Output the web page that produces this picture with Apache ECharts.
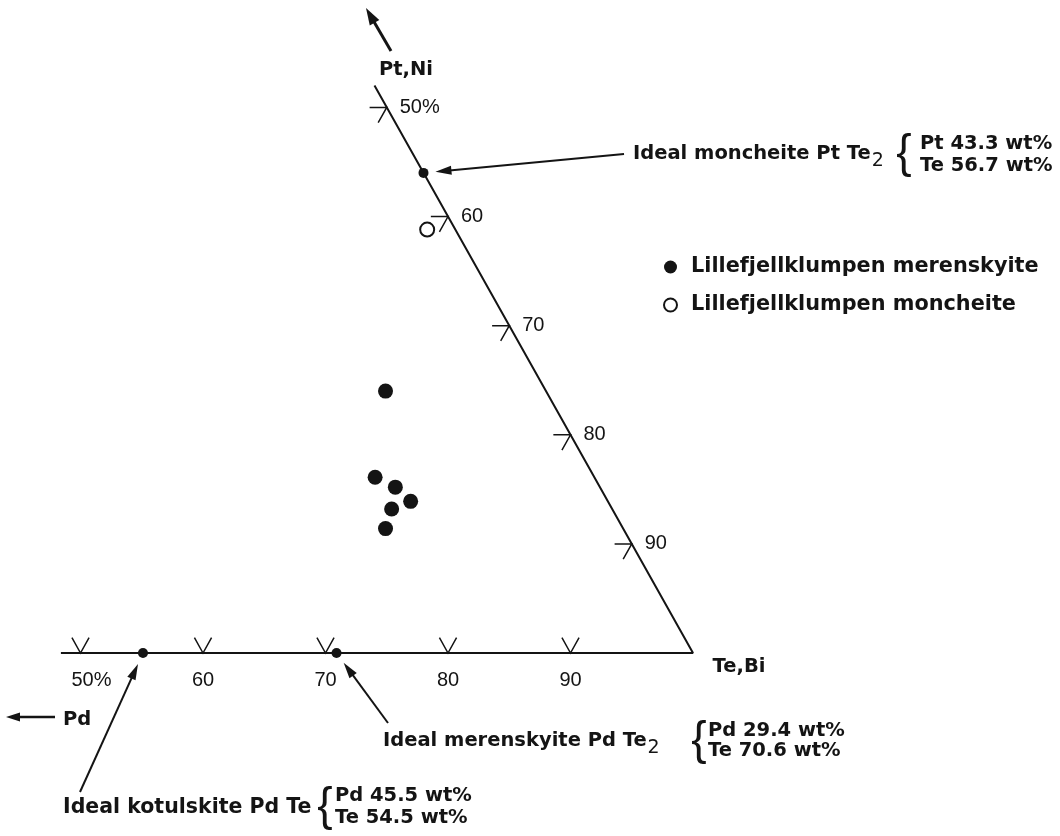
<!DOCTYPE html>
<html><head><meta charset="utf-8">
<script src="https://cdn.jsdelivr.net/npm/echarts@6/dist/echarts.min.js"></script>
<style>html,body{margin:0;padding:0;background:#fff}#main{width:1060px;height:836px}</style>
</head><body><div id="main"></div>
<script>
// ---------- data (wt%): Te,Bi and Pt,Ni; Pd = 100 - Te - Pt ----------
const teTicks = [50, 60, 70, 80, 90];
const bottomTickLabels = ['50%', '60', '70', '80', '90'];
const rightTickLabels = ['50%', '60', '70', '80', '90'];
const merenskyiteTe = [62.9, 66.0, 68.1, 70.0, 68.8, 69.2];
const merenskyitePt = [24.0, 16.1, 15.2, 13.9, 13.2, 11.4];
const moncheiteTe = [58.9];
const moncheitePt = [38.8];
const idealNames = ['moncheite', 'merenskyite', 'kotulskite'];
const idealTe = [56.0, 70.9, 55.1];
const idealPt = [44.0, 0, 0];
const frameTe = [48.4, 100, 48.0];
const framePt = [0, 0, 52.0];
const seriesNames = ['Lillefjellklumpen merenskyite', 'Lillefjellklumpen moncheite'];

// ---------- helpers ----------
const SQ = Math.sqrt(3) / 2;
const toXY = (te, pt) => [te + pt / 2, pt * SQ];
const TXT = '#141414';
const BOLD = 'DejaVu Sans';
const NUMF = 'Liberation Sans';
const tickLen = 1.4;

const bottomTicks = teTicks.map(t => ({ coords: [toXY(t - tickLen, tickLen), toXY(t, 0), toXY(t, tickLen)] }));
const rightTicks = teTicks.map(t => ({ coords: [toXY(t - tickLen, 100 - t), toXY(t, 100 - t), toXY(t, 100 - t - tickLen)] }));
const numLabel = { show: true, color: TXT, opacity: 1, fontFamily: NUMF, fontSize: 20, lineHeight: 20 };

const chart = echarts.init(document.getElementById('main'), null, { renderer: 'canvas' });
const option = {
  animation: false,
  backgroundColor: '#fff',
  grid: { left: 7, top: 23, width: 735, height: 756, containLabel: false },
  xAxis: { type: 'value', min: 44, max: 104, show: false },
  yAxis: { type: 'value', min: -10, max: 50, show: false },
  legend: {
    orient: 'vertical', left: 663, top: 256, padding: 0, itemGap: 16,
    itemWidth: 13, itemHeight: 13, selectedMode: false,
    data: [
      { name: seriesNames[0], icon: 'circle', itemStyle: { color: TXT, opacity: 1 } },
      { name: seriesNames[1], icon: 'circle', itemStyle: { color: '#fff', borderColor: TXT, borderWidth: 2, opacity: 1 } }
    ],
    textStyle: { fontFamily: BOLD, fontWeight: 'bold', fontSize: 20.8, color: TXT, lineHeight: 22, padding: [0, 0, 0, 9] }
  },
  series: [
    { type: 'line', name: 'frame', data: frameTe.map((t, i) => toXY(t, framePt[i])), symbol: 'none',
      lineStyle: { color: TXT, width: 2 }, silent: true, z: 2 },
    { type: 'lines', name: 'ticks', coordinateSystem: 'cartesian2d', polyline: true,
      data: bottomTicks.concat(rightTicks), lineStyle: { color: TXT, width: 1.5, opacity: 1 }, silent: true, z: 2 },
    { type: 'scatter', name: 'bottomLabels', symbolSize: 0, silent: true, itemStyle: { opacity: 1 },
      data: teTicks.map((t, i) => ({ value: toXY(t, 0), label: i === 0 ? { offset: [11, 0] } : {} })),
      label: Object.assign({ position: 'bottom', distance: 17, formatter: p => bottomTickLabels[p.dataIndex] }, numLabel) },
    { type: 'scatter', name: 'rightLabels', symbolSize: 0, silent: true, itemStyle: { opacity: 1 },
      data: teTicks.map(t => toXY(t, 100 - t)),
      label: Object.assign({ position: 'right', distance: 13, formatter: p => rightTickLabels[p.dataIndex] }, numLabel) },
    { type: 'scatter', name: seriesNames[0], symbol: 'circle', symbolSize: 15,
      data: merenskyiteTe.map((t, i) => toXY(t, merenskyitePt[i])), itemStyle: { color: TXT, opacity: 1 }, z: 5 },
    { type: 'scatter', name: seriesNames[1], symbol: 'circle', symbolSize: 14,
      data: moncheiteTe.map((t, i) => toXY(t, moncheitePt[i])),
      itemStyle: { color: '#fff', borderColor: TXT, borderWidth: 2, opacity: 1 }, z: 5 },
    { type: 'scatter', name: 'Ideal compositions', symbol: 'circle', symbolSize: 10,
      data: idealTe.map((t, i) => ({ name: idealNames[i], value: toXY(t, idealPt[i]) })), itemStyle: { color: TXT, opacity: 1 }, z: 6 }
  ]
};
chart.setOption(option);

// ---------- annotations ----------
const P = (te, pt) => chart.convertToPixel({ gridIndex: 0 }, toXY(te, pt));
function arrow(tail, tip, hl, hw, w) {
  const dx = tip[0] - tail[0], dy = tip[1] - tail[1], len = Math.hypot(dx, dy), ux = dx / len, uy = dy / len;
  const bx = tip[0] - ux * hl, by = tip[1] - uy * hl;
  return [
    { type: 'line', silent: true, shape: { x1: tail[0], y1: tail[1], x2: bx + ux * 2, y2: by + uy * 2 }, style: { stroke: TXT, lineWidth: w } },
    { type: 'polygon', silent: true, shape: { points: [[tip[0], tip[1]], [bx - uy * hw / 2, by + ux * hw / 2], [bx + uy * hw / 2, by - ux * hw / 2]] }, style: { fill: TXT } }
  ];
}
function pointerTo(dot, tail, gap) {
  const dx = tail[0] - dot[0], dy = tail[1] - dot[1], l = Math.hypot(dx, dy);
  return [dot[0] + dx / l * gap, dot[1] + dy / l * gap];
}
function txt(x, y, text, size, weight, align, family) {
  return { type: 'text', x: x, y: y, silent: true,
    style: { text: text, fill: TXT, font: (weight || 'bold') + ' ' + (size || 19.5) + 'px "' + (family || BOLD) + '"', align: align || 'left', verticalAlign: 'middle' } };
}
function subLabel(x, y, main) {
  return { type: 'text', x: x, y: y, silent: true,
    style: { text: '{m|' + main + '}{s|2}', align: 'left', verticalAlign: 'middle', fill: TXT,
      rich: {
        m: { fontFamily: BOLD, fontWeight: 'bold', fontSize: 19.5, lineHeight: 20, fill: TXT },
        s: { fontFamily: BOLD, fontWeight: 'normal', fontSize: 19, lineHeight: 20, padding: [14, 0, 0, 1], fill: TXT }
      } } };
}
function brace(x, y) { return txt(x, y, '{', 46, 'normal', 'center', NUMF); }

const idealPx = idealTe.map((t, i) => P(t, idealPt[i]));
const monTail = [624, 154], merTail = [388, 723], kotTail = [80, 792];
let g = [];
g = g.concat(arrow([391, 51], [366, 8], 17, 11, 3));
g = g.concat(arrow([55, 717], [6, 717], 14, 9, 2.5));
g = g.concat(arrow(monTail, pointerTo(idealPx[0], monTail, 12), 16, 9, 2));
g = g.concat(arrow(merTail, pointerTo(idealPx[1], merTail, 12), 16, 9, 2));
g = g.concat(arrow(kotTail, pointerTo(idealPx[2], kotTail, 12), 16, 9, 2));
g.push(txt(406, 70, 'Pt,Ni', 19.5, 'bold', 'center'));
g.push(txt(739, 667, 'Te,Bi', 19.5, 'bold', 'center'));
g.push(txt(63, 720, 'Pd', 19.5, 'bold', 'left'));
g.push(subLabel(633, 154, 'Ideal moncheite Pt Te'));
g.push(brace(904, 154));
g.push(txt(920, 144, 'Pt 43.3 wt%'));
g.push(txt(920, 166, 'Te 56.7 wt%'));
g.push(subLabel(383, 741, 'Ideal merenskyite Pd Te'));
g.push(brace(699, 741));
g.push(txt(708, 731, 'Pd 29.4 wt%'));
g.push(txt(708, 751, 'Te 70.6 wt%'));
g.push(txt(63, 808, 'Ideal kotulskite Pd Te', 20.5));
g.push(brace(325, 807));
g.push(txt(335, 796, 'Pd 45.5 wt%'));
g.push(txt(335, 818, 'Te 54.5 wt%'));
chart.setOption({ graphic: { elements: g } });
</script>
</body></html>
